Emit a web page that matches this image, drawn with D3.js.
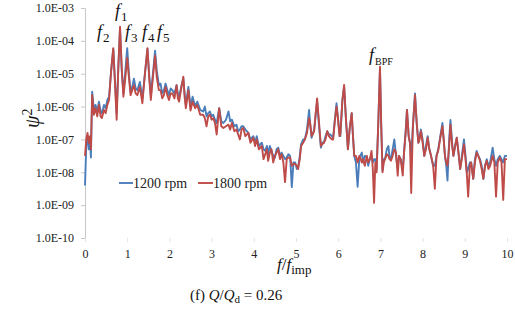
<!DOCTYPE html>
<html><head><meta charset="utf-8">
<script src="https://d3js.org/d3.v7.min.js"></script>
<style>body{margin:0;background:#fff}svg{display:block}</style>
</head><body>
<script>
// frequency ratio f/f_imp (shared sampling)
const freq = [0.00,0.03,0.06,0.09,0.12,0.14,0.17,0.21,0.25,0.29,0.33,0.37,0.40,0.45,0.49,0.53,0.57,0.62,0.67,0.71,0.75,0.79,0.83,0.87,0.91,0.95,1.00,1.04,1.08,1.12,1.16,1.20,1.24,1.30,1.36,1.42,1.48,1.52,1.56,1.61,1.66,1.70,1.75,1.79,1.83,1.87,1.91,1.95,1.99,2.03,2.07,2.12,2.17,2.20,2.23,2.28,2.33,2.36,2.39,2.45,2.50,2.55,2.61,2.66,2.73,2.80,2.84,2.88,2.92,2.96,3.00,3.04,3.08,3.12,3.18,3.23,3.28,3.34,3.40,3.44,3.48,3.54,3.59,3.63,3.67,3.71,3.75,3.80,3.87,3.92,3.99,4.03,4.07,4.12,4.19,4.23,4.27,4.31,4.34,4.38,4.42,4.46,4.50,4.54,4.58,4.62,4.66,4.70,4.74,4.78,4.82,4.86,4.90,4.94,4.98,5.02,5.05,5.09,5.12,5.17,5.21,5.26,5.31,5.34,5.37,5.43,5.47,5.50,5.54,5.59,5.62,5.66,5.70,5.74,5.78,5.81,5.85,5.88,5.92,5.96,5.99,6.03,6.05,6.10,6.14,6.18,6.23,6.27,6.32,6.35,6.38,6.42,6.46,6.50,6.52,6.56,6.59,6.63,6.68,6.71,6.75,6.79,6.82,6.85,6.88,6.91,6.95,6.99,7.02,7.05,7.08,7.11,7.15,7.19,7.22,7.25,7.29,7.33,7.37,7.41,7.44,7.48,7.53,7.56,7.60,7.63,7.67,7.70,7.73,7.77,7.82,7.86,7.90,7.93,7.96,8.00,8.04,8.08,8.12,8.16,8.20,8.25,8.29,8.33,8.37,8.42,8.47,8.50,8.53,8.56,8.59,8.63,8.66,8.70,8.73,8.77,8.81,8.85,8.89,8.93,8.98,9.01,9.05,9.08,9.12,9.15,9.20,9.24,9.28,9.32,9.36,9.40,9.44,9.48,9.52,9.56,9.60,9.66,9.70,9.74,9.78,9.83,9.87,9.91,9.95,10.00];

// log10(psi^2), 1200 rpm
const rpm1200 = [-8.4,-7.2,-6.9,-7.3,-7.0,-7.55,-5.55,-6.1,-5.95,-6.15,-5.85,-6.15,-6.2,-5.95,-6.05,-5.8,-5.7,-4.9,-4.25,-5.2,-6.2,-4.8,-3.62,-4.9,-5.6,-5.0,-4.22,-5.0,-5.55,-5.4,-5.15,-5.45,-5.5,-5.25,-5.75,-5.0,-4.25,-5.0,-5.65,-5.0,-4.3,-4.9,-5.35,-5.3,-5.6,-5.5,-5.3,-5.5,-5.65,-5.45,-5.5,-5.6,-5.35,-5.6,-5.7,-5.4,-5.15,-5.6,-5.95,-5.4,-6.0,-5.7,-6.0,-5.85,-6.1,-6.15,-6.0,-6.3,-6.2,-6.15,-6.3,-6.25,-6.4,-6.5,-6.05,-6.45,-6.5,-6.4,-6.15,-6.45,-6.4,-6.6,-6.55,-6.75,-6.7,-6.6,-6.6,-6.7,-6.8,-7.0,-6.9,-7.1,-6.9,-7.2,-7.1,-7.3,-7.35,-7.2,-7.45,-7.2,-7.35,-7.5,-7.55,-7.3,-7.25,-7.5,-7.4,-7.5,-7.6,-7.55,-7.45,-7.5,-8.45,-7.7,-7.7,-7.9,-7.85,-7.5,-7.15,-7.0,-7.0,-6.7,-6.1,-6.6,-6.95,-6.7,-6.2,-5.85,-6.5,-7.25,-7.1,-7.1,-6.9,-6.75,-6.85,-6.85,-6.9,-6.95,-6.4,-5.9,-6.3,-6.8,-6.9,-5.8,-5.4,-6.3,-7.3,-6.7,-6.2,-6.9,-7.5,-7.7,-8.44,-7.6,-7.5,-7.4,-7.7,-7.5,-7.55,-7.8,-7.6,-7.5,-7.7,-7.6,-7.6,-7.9,-6.5,-4.85,-6.6,-7.95,-7.6,-7.6,-7.3,-7.2,-7.6,-7.6,-7.3,-7.0,-7.5,-7.9,-7.5,-7.6,-7.9,-7.4,-6.7,-6.1,-6.9,-7.1,-7.5,-6.6,-5.6,-6.5,-7.1,-6.9,-6.7,-7.0,-7.5,-7.2,-6.9,-7.3,-7.5,-7.8,-7.8,-7.5,-7.3,-6.9,-6.5,-7.0,-7.5,-7.8,-8.25,-7.0,-6.41,-7.1,-7.5,-7.2,-6.95,-7.4,-7.9,-7.5,-7.0,-7.4,-8.0,-7.9,-7.7,-7.7,-8.2,-7.6,-7.35,-7.5,-7.6,-7.8,-8.2,-7.8,-7.6,-7.8,-7.7,-7.25,-7.6,-7.8,-7.6,-7.5,-7.6,-7.7,-7.5,-7.5];

// log10(psi^2), 1800 rpm
const rpm1800 = [-7.5,-7.0,-6.8,-7.1,-6.9,-7.3,-5.65,-6.25,-6.05,-6.3,-5.95,-6.3,-6.35,-6.1,-6.2,-5.95,-5.8,-4.9,-4.22,-5.3,-6.4,-4.8,-3.57,-4.8,-5.7,-5.2,-4.52,-5.1,-5.65,-5.5,-5.35,-5.6,-5.65,-5.4,-5.9,-5.0,-4.22,-5.1,-5.8,-5.1,-4.45,-5.1,-5.5,-5.5,-5.75,-5.65,-5.4,-5.65,-5.8,-5.6,-5.6,-5.75,-5.35,-5.75,-5.85,-5.45,-5.09,-5.7,-6.05,-5.5,-6.12,-5.85,-6.05,-5.95,-6.25,-6.25,-6.35,-6.6,-6.3,-6.25,-6.4,-6.35,-6.5,-6.85,-6.05,-6.6,-6.65,-6.6,-6.55,-6.7,-6.5,-6.75,-6.7,-6.85,-7.0,-6.7,-6.65,-6.9,-6.8,-7.1,-6.95,-7.2,-7.0,-7.3,-7.2,-7.6,-7.45,-7.3,-7.65,-7.4,-7.3,-7.7,-7.5,-7.4,-7.3,-7.6,-7.45,-7.7,-8.3,-7.6,-7.55,-7.55,-7.8,-7.75,-7.75,-7.8,-7.9,-7.6,-7.2,-7.1,-7.0,-6.8,-6.35,-6.55,-6.9,-6.75,-6.15,-5.75,-6.4,-7.2,-7.15,-7.1,-7.0,-6.75,-6.9,-6.95,-7.0,-7.0,-6.45,-6.0,-6.3,-6.9,-6.85,-5.8,-5.34,-6.3,-7.3,-6.7,-6.2,-6.9,-7.5,-7.5,-7.7,-7.5,-7.55,-7.7,-7.6,-7.8,-7.5,-7.7,-7.6,-7.35,-7.9,-8.93,-7.7,-8.0,-6.5,-4.79,-6.6,-8.0,-7.7,-7.6,-7.45,-7.5,-7.6,-7.65,-7.5,-7.3,-7.4,-8.1,-7.5,-7.6,-8.1,-7.4,-6.8,-6.1,-6.9,-7.1,-8.63,-6.6,-5.65,-6.5,-7.1,-7.0,-6.75,-7.1,-7.5,-7.3,-6.95,-7.3,-7.5,-7.8,-8.5,-7.5,-7.35,-6.95,-6.6,-7.0,-7.5,-7.7,-7.8,-7.2,-6.55,-7.2,-7.5,-7.2,-6.95,-7.4,-7.9,-7.6,-7.15,-7.5,-8.1,-8.74,-7.8,-7.7,-8.2,-7.7,-7.4,-7.5,-7.65,-7.9,-8.2,-7.8,-7.65,-7.9,-7.8,-7.5,-7.7,-8.74,-7.7,-7.55,-7.7,-8.84,-7.6,-7.6];

const xTicks = [0,1,2,3,4,5,6,7,8,9,10];
const yTicks = [1e-3,1e-4,1e-5,1e-6,1e-7,1e-8,1e-9,1e-10];
const yTickLabels = ["1.0E-03","1.0E-04","1.0E-05","1.0E-06","1.0E-07","1.0E-08","1.0E-09","1.0E-10"];
const seriesNames = ["1200 rpm","1800 rpm"];
const peakLabels = ["1","2","3","4","5","BPF"];

const FONT = "'Liberation Serif', 'Tinos', 'DejaVu Serif', serif";
const W = 515, H = 316;
const svg = d3.select("body").append("svg").attr("width", W).attr("height", H)
  .attr("font-family", FONT);
const x = d3.scaleLinear().domain([0,10]).range([85,507]);
const y = d3.scaleLog().domain([1e-10,1e-3]).range([238,8]);

// y axis
const yAxis = d3.axisLeft(y).tickValues(yTicks).tickSize(4).tickFormat((d,i)=>yTickLabels[i]);
const gy = svg.append("g").attr("transform","translate(85,0)").call(yAxis);
gy.select(".domain").attr("stroke","#c8c8c8");
gy.selectAll(".tick line").attr("stroke","#c8c8c8");
gy.selectAll(".tick text").attr("font-family",FONT).attr("font-size",12).attr("fill","#222").attr("x",-11);

// x axis
const xAxis = d3.axisBottom(x).tickValues(xTicks).tickSize(4).tickFormat(d3.format("d"));
const gx = svg.append("g").attr("transform","translate(0,238)").call(xAxis);
gx.select(".domain").remove();
gx.selectAll(".tick line").attr("stroke","#e4e4e4");
gx.selectAll(".tick text").attr("font-family",FONT).attr("font-size",12).attr("fill","#222").attr("y",11);

// series
const line = d3.line().x((d,i)=>x(freq[i])).y(d=>y(Math.pow(10,d)));
const colors = ["#4a7ebb","#be4b48"];
[rpm1200, rpm1800].forEach((s,k)=>{
  svg.append("path").datum(s).attr("d",line).attr("fill","none").attr("stroke",colors[k]).attr("stroke-width",1.9).attr("stroke-linejoin","round");
});

// peak labels
const lblPos = {"1":[115,17],"2":[97,38],"3":[125,38],"4":[142,38],"5":[157,38],"BPF":[369,61]};
peakLabels.forEach(n=>{
  const [px,py] = lblPos[n];
  const t = svg.append("text").attr("x",px).attr("y",py).attr("font-size",18).attr("fill","#111");
  t.append("tspan").attr("font-style","italic").text("f");
  t.append("tspan").attr("font-size",n==="BPF"?10:13).attr("dy",4).attr("dx",1).text(n);
});

// legend
svg.append("line").attr("x1",119).attr("x2",133).attr("y1",183).attr("y2",183).attr("stroke",colors[0]).attr("stroke-width",1.9);
svg.append("text").attr("x",133).attr("y",188).attr("font-size",14).attr("fill","#222").text(seriesNames[0]);
svg.append("line").attr("x1",198).attr("x2",213).attr("y1",183).attr("y2",183).attr("stroke",colors[1]).attr("stroke-width",1.9);
svg.append("text").attr("x",213).attr("y",188).attr("font-size",14).attr("fill","#222").text(seriesNames[1]);

// x label
const xl = svg.append("text").attr("x",277).attr("y",270).attr("font-size",17).attr("fill","#111");
xl.append("tspan").attr("font-style","italic").text("f");
xl.append("tspan").text("/");
xl.append("tspan").attr("font-style","italic").text("f");
xl.append("tspan").attr("font-size",13).attr("dy",4).text("imp");

// y label
const yl = svg.append("text").attr("transform","translate(39,128) rotate(-90)").attr("font-size",20).attr("fill","#111");
yl.append("tspan").attr("font-style","italic").text("ψ");
yl.append("tspan").attr("font-size",14).attr("dy",-7).text("2");

// caption
const cap = svg.append("text").attr("x",190).attr("y",300).attr("font-size",15).attr("fill","#111");
cap.append("tspan").text("(f) ");
cap.append("tspan").attr("font-style","italic").text("Q");
cap.append("tspan").text("/");
cap.append("tspan").attr("font-style","italic").text("Q");
cap.append("tspan").attr("font-size",11).attr("dy",3).text("d");
cap.append("tspan").attr("dy",-3).text(" = 0.26");
</script>
</body></html>
